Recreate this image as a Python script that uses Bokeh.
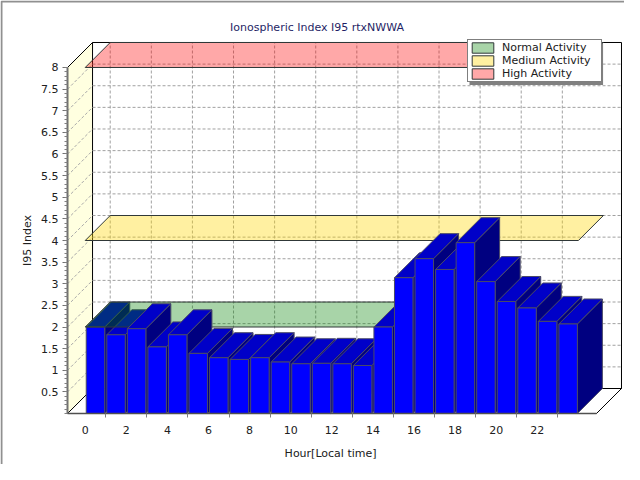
import math
from bokeh.plotting import figure
from bokeh.models import (Range1d, FixedTicker, Legend, LegendItem, Label,
                          ColumnDataSource, BoxAnnotation)
from bokeh.embed import file_html
from bokeh.resources import INLINE

# ---------------- data ----------------
TITLE = "Ionospheric Index I95 rtxNWWA"
X_LABEL = "Hour[Local time]"
Y_LABEL = "I95 Index"

HOURS = [0, 1, 2, 3, 4, 5, 6, 7, 8, 9, 10, 11,
         12, 13, 14, 15, 16, 17, 18, 19, 20, 21, 22, 23]
I95 = [2.00, 1.82, 1.96, 1.54, 1.82, 1.39, 1.29, 1.25, 1.29, 1.19, 1.15, 1.16,
       1.15, 1.11, 2.00, 3.14, 3.58, 3.33, 3.95, 3.05, 2.59, 2.44, 2.13, 2.07]

X_TICKS = [0, 2, 4, 6, 8, 10, 12, 14, 16, 18, 20, 22]
X_TICK_LABELS = ["0", "2", "4", "6", "8", "10", "12", "14", "16", "18", "20", "22"]
X_MINOR_TICKS = [1, 3, 5, 7, 9, 11, 13, 15, 17, 19, 21, 23]
Y_TICKS = [0.5, 1.0, 1.5, 2.0, 2.5, 3.0, 3.5, 4.0, 4.5, 5.0, 5.5, 6.0, 6.5, 7.0, 7.5, 8.0]
Y_TICK_LABELS = ["0.5", "1", "1.5", "2", "2.5", "3", "3.5", "4", "4.5", "5",
                 "5.5", "6", "6.5", "7", "7.5", "8"]
Y_MINOR_TICKS = [round(0.1 * i, 1) for i in range(0, 81)]

BAND_NAMES = ["Normal Activity", "Medium Activity", "High Activity"]
BAND_LEVELS = [2.0, 4.0, 8.0]
BAND_COLORS = ["#008000", "#FFD700", "#FF0000"]
BAND_ALPHAS = [0.34, 0.37, 0.34]
BAND_FROM, BAND_TO = 0, 24

# ---------------- layout / style ----------------
X_VIEW = (-4.122, 26.243)     # whole canvas in data units
Y_VIEW = (-1.179, 9.549)
X_FRONT = (-0.86, 24.88)      # front x-axis extent (hours)
Y_FRONT = (0.0, 8.0)          # front y-axis extent
DX, DY = 1.217, 0.578         # 3D depth offset in data units
BAR_PAD = 0.05
N_BEHIND_BAND = 2             # first bars painted before the translucent bands
FRONT_C, TOP_C, SIDE_C = "#0000FF", "#0000C8", "#000080"
FONT = "DejaVu Sans"

p = figure(width=624, height=464,
           x_range=Range1d(*X_VIEW), y_range=Range1d(*Y_VIEW),
           output_backend="svg", toolbar_location=None, title=None,
           min_border_left=0, min_border_right=0,
           min_border_top=0, min_border_bottom=0)
p.grid.visible = False
p.outline_line_color = None
p.background_fill_color = "white"
p.border_fill_color = "white"

x0, x1 = X_FRONT
y0, y1 = Y_FRONT

# outer chart frame (left / top edges)
ex = X_VIEW[0] + 1.0 / 20.55
ey = Y_VIEW[1] - 1.0 / 43.25
p.line([ex, ex, X_VIEW[1]], [Y_VIEW[0], ey, ey], line_color="#909090", line_width=2)

# side wall
p.patch([x0, x0, x0 + DX, x0 + DX], [y0, y1, y1 + DY, y0 + DY],
        fill_color="#FFFFE0", line_color=None)
# back wall
p.patch([x0 + DX, x1 + DX, x1 + DX, x0 + DX], [y0 + DY, y0 + DY, y1 + DY, y1 + DY],
        fill_color="white", line_color="black", line_width=1)
# floor
p.patch([x0, x1, x1 + DX, x0 + DX], [y0, y0, y0 + DY, y0 + DY],
        fill_color="white", line_color="black", line_width=1)

# grid: side wall diagonals
gv = Y_TICKS[:-1]
p.multi_line([[x0, x0 + DX] for v in gv], [[v, v + DY] for v in gv],
             line_color="#A8A8A8", line_dash="3 2", line_width=1)
# grid: back wall horizontals
p.multi_line([[x0 + DX, x1 + DX] for v in gv], [[v + DY, v + DY] for v in gv],
             line_color="#A0A0A0", line_dash="3 2", line_width=1)
# grid: back wall verticals
p.multi_line([[h + DX, h + DX] for h in X_TICKS], [[y0 + DY, y1 + DY] for h in X_TICKS],
             line_color="#A0A0A0", line_dash="3 2", line_width=1)
# side wall top edge
p.line([x0, x0 + DX], [y1, y1 + DY], line_color="black", line_width=1)


def bar_faces(hours, values):
    """Painter's order: side, top, front per bar, left to right."""
    xs, ys, cs = [], [], []
    for h, v in zip(hours, values):
        a, b = h + BAR_PAD, h + 1 - BAR_PAD
        xs.append([b, b + DX, b + DX, b]); ys.append([0, DY, v + DY, v]); cs.append(SIDE_C)
        xs.append([a, b, b + DX, a + DX]); ys.append([v, v, v + DY, v + DY]); cs.append(TOP_C)
        xs.append([a, b, b, a]); ys.append([0, 0, v, v]); cs.append(FRONT_C)
    return ColumnDataSource(dict(xs=xs, ys=ys, c=cs))


# first bars (behind the translucent band)
p.patches("xs", "ys", source=bar_faces(HOURS[:N_BEHIND_BAND], I95[:N_BEHIND_BAND]),
          fill_color="c", line_color="#4A4A66", line_width=1)

# bands
band_renderers = []
for name, lv, col, al in zip(BAND_NAMES, BAND_LEVELS, BAND_COLORS, BAND_ALPHAS):
    r = p.patch([BAND_FROM, BAND_TO, BAND_TO + DX, BAND_FROM + DX],
                [lv, lv, lv + DY, lv + DY],
                fill_color=col, fill_alpha=al, line_color="#303838", line_width=1)
    band_renderers.append(r)

# remaining bars
p.patches("xs", "ys", source=bar_faces(HOURS[N_BEHIND_BAND:], I95[N_BEHIND_BAND:]),
          fill_color="c", line_color="#4A4A66", line_width=1)

# axes (fixed at the front edges of the 3D box)
yax = p.yaxis[0]
yax.fixed_location = x0
yax.ticker = FixedTicker(ticks=Y_TICKS, minor_ticks=Y_MINOR_TICKS)
yax.major_label_overrides = {t: l for t, l in zip(Y_TICKS, Y_TICK_LABELS)}
yax.bounds = Y_FRONT
yax.axis_line_color = "#707070"
yax.axis_line_width = 2
yax.major_tick_out = 5
yax.major_tick_in = 0
yax.minor_tick_out = 3
yax.minor_tick_in = 0
yax.major_tick_line_color = "#707070"
yax.minor_tick_line_color = "#808080"
yax.major_label_standoff = 4
yax.major_label_text_font = FONT
yax.major_label_text_font_size = "11px"
yax.major_label_text_color = "#202020"

xax = p.xaxis[0]
xax.fixed_location = y0
xax.ticker = FixedTicker(ticks=X_TICKS, minor_ticks=X_MINOR_TICKS)
xax.major_label_overrides = {t: l for t, l in zip(X_TICKS, X_TICK_LABELS)}
xax.bounds = X_FRONT
xax.axis_line_color = "#505050"
xax.axis_line_width = 1.5
xax.major_tick_out = 0
xax.major_tick_in = 0
xax.major_tick_line_color = None
xax.minor_tick_out = 4
xax.minor_tick_in = 0
xax.minor_tick_line_color = "#808080"
xax.major_label_standoff = 8
xax.major_label_text_font = FONT
xax.major_label_text_font_size = "11px"
xax.major_label_text_color = "#202020"

# titles
p.add_layout(Label(x=11.28, y=8.925, text=TITLE, text_align="center", text_baseline="middle",
                   text_font=FONT, text_font_size="11px", text_color="#1F1F66"))
p.add_layout(Label(x=11.94, y=-0.925, text=X_LABEL, text_align="center", text_baseline="middle",
                   text_font=FONT, text_font_size="11px", text_color="#202020"))
p.add_layout(Label(x=-2.81, y=4.0, text=Y_LABEL, text_align="center", text_baseline="middle",
                   angle=math.pi / 2, text_font=FONT, text_font_size="11px", text_color="#202020"))

# legend shadow + legend
p.add_layout(BoxAnnotation(left=18.70, right=25.20, top=8.555, bottom=7.595,
                           fill_color="#808080", fill_alpha=1.0, line_color=None))
legend = Legend(items=[LegendItem(label=n, renderers=[r]) for n, r in zip(BAND_NAMES, band_renderers)],
                location=(467, 382), orientation="vertical",
                label_text_font=FONT, label_text_font_size="11px", label_text_color="#202020",
                glyph_width=27, glyph_height=13, label_standoff=6, label_height=13,
                label_width=98, padding=1, spacing=0, margin=0,
                border_line_color="black", border_line_width=1,
                background_fill_color="white", background_fill_alpha=1.0)
p.add_layout(legend)

open("out.html", "w").write(file_html(p, INLINE))
